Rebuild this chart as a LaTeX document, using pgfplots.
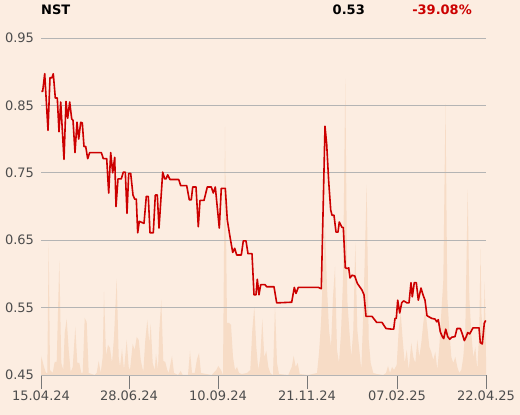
\documentclass[border=0pt]{standalone}
\usepackage{pgfplots}
\pgfplotsset{compat=1.18}
\usepackage{fontspec}
\setmainfont{DejaVu Sans}
\definecolor{bg}{RGB}{252,237,225}
\definecolor{vol}{RGB}{247,220,198}
\definecolor{redline}{RGB}{204,0,0}
\definecolor{gridc}{RGB}{180,180,180}
\definecolor{tickc}{RGB}{120,120,120}
\definecolor{labc}{RGB}{77,77,77}
\begin{document}
\begin{tikzpicture}
\fill[bg] (0,0) rectangle (520bp,415bp);
\begin{axis}[at={(41bp,40bp)}, anchor=south west, scale only axis,
  width=445bp, height=337bp, xmin=41, xmax=486, ymin=0, ymax=337, hide axis]
\addplot[fill=vol, draw=none] coordinates {
(41,0)(41.3,19)(44,8)(46,2)(47.3,2)(48.7,132)(50,5)(52.7,2)(54.7,13)(56.7,13)(59.3,114)(61.3,12)(63.3,5)(64.7,42)(66.7,56)(68.7,25)(70.7,3)(72.7,8)(75.3,48)(77.3,12)(79.3,12)(81.3,2)(82.7,2)(84.7,57)(86.7,53)(88.7,2)(94.7,0)(96.7,2)(98.7,14)(100.7,2)(102.7,18)(104,83)(106,20)(108,30)(110,27)(112,12)(114,38)(116.7,96)(118.7,18)(120,8)(122,26)(124,5)(126.7,35)(128.7,8)(130,5)(132.7,31)(134.7,25)(136.7,38)(138.7,35)(140.7,15)(143.3,3)(145.3,35)(147.3,55)(149.3,32)(150.7,51)(152.7,12)(154.7,5)(156,21)(158,5)(159.3,45)(161.3,75)(163.3,14)(165.3,13)(167.3,5)(168.7,2)(172,19)(174,2)(178,0)(180.7,4)(182.7,0)(188,0)(190,24)(192,2)(194.7,2)(197,16)(199,22)(201,2)(211.7,0)(216.3,5)(218.3,9)(221,5)(223,0)(225,248)(227,52)(229,52)(231,50)(233,18)(235,5)(237,8)(239,2)(241.7,1)(247,2)(250.3,5)(252.3,45)(254.3,68)(256.3,28)(258.3,5)(260.3,18)(262.3,56)(264.3,18)(266.3,24)(268.3,8)(270.3,2)(273,0)(275,70)(277,12)(279,1)(288.3,0)(291.7,8)(293.7,19)(295.7,8)(297.7,12)(299.7,1)(308.3,0)(317,2)(319,22)(321,52)(323,105)(325,150)(327,88)(329,45)(331,28)(333,78)(335,108)(337,25)(339,12)(341,42)(343,95)(345.3,296)(347.3,75)(349.3,45)(351.3,18)(353.3,45)(355.3,132)(357.3,45)(359.3,25)(361.3,5)(363.3,62)(366.7,190)(368.7,35)(370.7,12)(373.3,2)(376.7,1)(383.3,0)(386,2)(388,9)(390,2)(392,8)(394,5)(396.7,10)(398.7,45)(400.7,62)(402.7,35)(404.7,12)(406.7,25)(408.7,5)(411.3,32)(413.3,18)(415.3,12)(417.3,35)(419.3,18)(421.3,32)(423.3,52)(425.3,65)(427.3,48)(429.3,28)(431.3,23)(433.3,15)(435.3,23)(437.3,5)(439.3,28)(441.3,62)(443.3,95)(445.5,271)(447.3,78)(449.3,45)(451.3,18)(453.3,12)(455.3,18)(457.3,8)(459.3,2)(461.3,5)(463.3,18)(465.3,45)(467.7,185)(469.3,78)(471.3,42)(473.3,18)(475.3,28)(477.3,5)(479.3,45)(480.5,126)(481.5,60)(483.3,40)(484.7,93)(486,18)(486,0)
} \closedcycle;
\end{axis}
\begin{axis}[at={(41bp,40bp)}, anchor=south west, scale only axis,
  width=445bp, height=337bp, xmin=41, xmax=486, ymin=0.45, ymax=0.95,
  axis x line*=bottom, axis y line*=left,
  x axis line style={draw=gridc, line width=0.8bp, -},
  y axis line style={draw=none},
  ytick={0.45,0.55,0.65,0.75,0.85,0.95},
  yticklabel style={/pgf/number format/fixed,/pgf/number format/precision=2,/pgf/number format/fixed zerofill},
  /pgf/number format/assume math mode=true,
  ymajorgrids, grid style={draw=gridc, line width=0.8bp},
  ytick style={draw=none},
  xtick={41,129,218,307,397,486},
  xticklabels={15.04.24,28.06.24,10.09.24,21.11.24,07.02.25,22.04.25},
  tick align=outside, major tick length=14bp,
  xtick style={draw=tickc, line width=0.9bp},
  tick label style={font=\fontsize{13bp}{15bp}\selectfont, text=labc},
  yticklabel style={xshift=10.5bp},
  xticklabel style={yshift=1.5bp},
  clip=false]
\addplot[redline, line width=1.6bp, line join=round] coordinates {
(41.3,0.871)(42.7,0.871)(44.7,0.897)(48,0.813)(50,0.891)(52,0.891)(53.3,0.897)(55.3,0.861)(57.3,0.861)(59,0.811)(60.7,0.855)(64,0.770)(66,0.856)(67.7,0.831)(69.7,0.855)(71.7,0.830)(73,0.828)(75,0.780)(77,0.825)(78.7,0.800)(80.7,0.825)(82.3,0.824)(84,0.789)(85.7,0.789)(87.7,0.771)(89.7,0.780)(101.3,0.780)(103.3,0.771)(106.7,0.771)(108.7,0.720)(110.7,0.780)(112.7,0.750)(114.7,0.773)(116,0.700)(118,0.741)(121.3,0.741)(123.3,0.751)(125.3,0.751)(127,0.690)(128.7,0.749)(130.7,0.749)(133,0.717)(134.7,0.711)(136.3,0.711)(137.7,0.661)(139.3,0.678)(144,0.675)(146.3,0.715)(148.3,0.715)(150,0.661)(153.3,0.661)(155.3,0.717)(157.3,0.717)(159,0.668)(162.7,0.751)(164.7,0.741)(166,0.741)(167.7,0.747)(170,0.740)(178.7,0.740)(180.7,0.731)(186.7,0.731)(189.3,0.710)(191.3,0.710)(192.7,0.729)(196,0.729)(198.3,0.670)(200,0.709)(204,0.709)(207.3,0.729)(211.3,0.729)(213.3,0.720)(215.3,0.729)(219.3,0.668)(221.3,0.727)(225.3,0.727)(227.3,0.680)(230,0.655)(232.7,0.632)(234.7,0.638)(236.7,0.628)(241.3,0.628)(243.3,0.649)(246,0.649)(248,0.630)(252,0.630)(254,0.569)(256,0.569)(257.3,0.592)(259,0.569)(260.7,0.584)(265,0.584)(266.7,0.581)(274,0.581)(276.7,0.557)(291.7,0.558)(294.3,0.580)(296,0.571)(298.3,0.580)(318.3,0.580)(321.3,0.578)(325,0.819)(326.7,0.792)(328.7,0.737)(330.7,0.695)(332,0.687)(334,0.687)(336,0.662)(338,0.662)(339.3,0.677)(342,0.669)(343.3,0.669)(345.3,0.609)(347.3,0.608)(348.7,0.609)(350,0.594)(352,0.598)(354.7,0.597)(357.3,0.586)(362,0.576)(364,0.569)(366,0.537)(372,0.537)(376.7,0.528)(382,0.528)(386,0.519)(391.7,0.518)(393.7,0.518)(395,0.534)(396.3,0.534)(397.7,0.561)(399.7,0.542)(401.7,0.557)(403.7,0.560)(407,0.557)(409,0.557)(411,0.587)(412.3,0.566)(414.3,0.587)(416.3,0.587)(418.3,0.561)(421,0.579)(423,0.569)(425,0.561)(427,0.538)(431.7,0.534)(435,0.533)(436.7,0.529)(438.3,0.532)(440.3,0.514)(442.3,0.507)(443.7,0.504)(445.7,0.518)(447.7,0.507)(449.7,0.503)(451.7,0.506)(455,0.507)(457,0.519)(460.3,0.519)(462.3,0.511)(464.3,0.501)(466.3,0.507)(467.7,0.513)(469.7,0.511)(473,0.520)(479,0.520)(480.3,0.498)(482.3,0.496)(484.3,0.527)(485.7,0.531)
};
\end{axis}
\node[anchor=base west, inner sep=0, font=\fontsize{13bp}{15bp}\selectfont\bfseries] at (41bp,400.5bp) {NST};
\node[anchor=base east, inner sep=0, font=\fontsize{13bp}{15bp}\selectfont\bfseries] at (365bp,400.5bp) {0.53};
\node[anchor=base east, inner sep=0, text=redline, font=\fontsize{13bp}{15bp}\selectfont\bfseries] at (472bp,400.5bp) {-39.08\%};
\pgfresetboundingbox
\useasboundingbox (0,0) rectangle (520bp,415bp);
\end{tikzpicture}
\end{document}
